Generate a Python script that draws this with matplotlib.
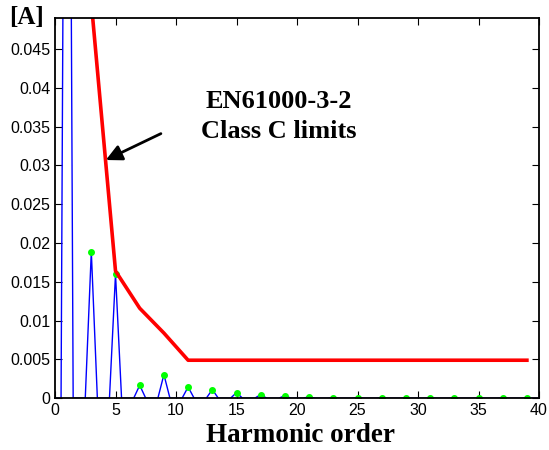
import numpy as np
import matplotlib.pyplot as plt
from matplotlib.ticker import FuncFormatter

# odd harmonics and measured current amplitudes [A]
harm = [1, 3, 5, 7, 9, 11, 13, 15, 17, 19, 21, 23, 25, 27, 29, 31, 33, 35, 37, 39]
amp = [0.163, 0.0189, 0.0160, 0.00167, 0.00305, 0.00145, 0.00112, 0.00073,
       0.00048, 0.00035, 0.0002, 0.00008, 0.00008, 0.00007, 0.00005,
       0.00005, 0.00005, 0.00005, 0.00005, 0.00005]

# EN61000-3-2 class C limits
lim_harm = [3, 5, 7, 9, 11, 13, 15, 17, 19, 21, 23, 25, 27, 29, 31, 33, 35, 37, 39]
lim_amp = [0.0510, 0.0164, 0.0116, 0.0084, 0.0049, 0.0049, 0.0049, 0.0049,
           0.0049, 0.0049, 0.0049, 0.0049, 0.0049, 0.0049, 0.0049, 0.0049,
           0.0049, 0.0049, 0.0049]

# spectrum sampled every half order, zero between harmonics
spec_x = np.arange(0, 40.5, 0.5)
spec_y = np.zeros_like(spec_x)
for h, a in zip(harm, amp):
    spec_y[int(h * 2)] = a

plt.rcParams['font.family'] = ['Liberation Sans', 'DejaVu Sans']

fig = plt.figure(figsize=(5.49, 4.5), dpi=100)
ax = fig.add_axes([0.1002, 0.115, 0.8816, 0.845])

ax.plot(spec_x, spec_y, color='#0000ff', lw=1.0)
ax.plot(harm, amp, 'o', color='#00ff00', ms=4, mec='#00ff00')
ax.plot(lim_harm, lim_amp, color='#ff0000', lw=2.6)

ax.set_xlim(0, 40)
ax.set_ylim(0, 0.049)
ax.set_xticks(range(0, 41, 5))
ax.set_yticks(np.arange(0, 0.0451, 0.005))
ax.yaxis.set_major_formatter(FuncFormatter(lambda v, p: f'{v:g}'))
ax.tick_params(direction='in', top=True, right=True, length=5, labelsize=11.5, width=0.8)
for s in ax.spines.values():
    s.set_linewidth(1.3)

ax.annotate('', xy=(4.2, 0.0307), xytext=(8.75, 0.0341),
            arrowprops=dict(arrowstyle='-|>', color='black', lw=2,
                            mutation_scale=24, shrinkA=0, shrinkB=0))
ax.text(18.5, 0.0363, 'EN61000-3-2\nClass C limits', ha='center', va='center',
        fontsize=19, fontweight='bold', family='Liberation Serif', linespacing=1.4)

fig.text(0.048, 0.962, '[A]', ha='center', va='center', fontsize=18,
         fontweight='bold', family='Liberation Serif')
fig.text(0.547, 0.033, 'Harmonic order', ha='center', va='center', fontsize=19.5,
         fontweight='bold', family='Liberation Serif')

fig.savefig('out.png', dpi=100)
